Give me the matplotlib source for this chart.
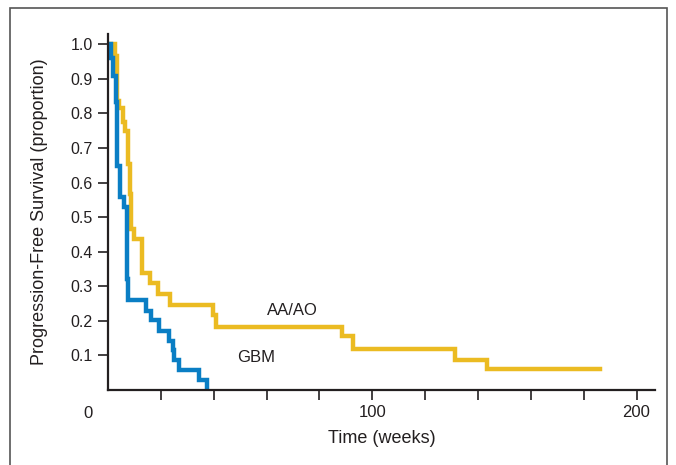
import matplotlib.pyplot as plt
from matplotlib.patches import Rectangle
from matplotlib.ticker import FixedLocator
import matplotlib.transforms as mtransforms

# Kaplan-Meier step points (time in weeks, proportion)
gbm_time = [0, 1.2, 2.0, 3.0, 3.4, 4.6, 5.9, 7.1, 7.6, 14.3, 16.4, 19.4,
            23.2, 24.5, 25.0, 27.0, 34.6, 37.6]
gbm_surv = [1.0, 0.962, 0.909, 0.832, 0.649, 0.557, 0.529, 0.322, 0.259, 0.230,
            0.203, 0.172, 0.143, 0.115, 0.086, 0.057, 0.029, 0.0]

aa_time = [0, 2.7, 3.4, 4.2, 5.6, 6.5, 7.5, 8.2, 8.8, 10.0, 12.8, 16.0, 18.9,
           23.6, 39.7, 40.7, 88.7, 92.9, 131.5, 143.4, 186.0]
aa_surv = [1.0, 0.967, 0.837, 0.815, 0.776, 0.750, 0.654, 0.568, 0.466, 0.437,
           0.338, 0.309, 0.278, 0.245, 0.216, 0.182, 0.155, 0.119, 0.088, 0.062,
           0.062]

y_ticks = [0.1, 0.2, 0.3, 0.4, 0.5, 0.6, 0.7, 0.8, 0.9, 1.0]
x_minor = [20, 40, 60, 80, 120, 140, 160, 180]
x_major = [100, 200]

blue = '#0a7ec4'
gold = '#ebbb22'
ink = '#231f20'
sans = ['Liberation Sans', 'DejaVu Sans']

fig = plt.figure(figsize=(6.76, 4.65), dpi=100)
ax = fig.add_axes([108 / 676, 1 - 390 / 465, (655 - 108) / 676, (390 - 34) / 465])

ax.step(aa_time, aa_surv, where='post', color=gold, lw=3.2, solid_joinstyle='miter')
ax.step(gbm_time, gbm_surv, where='post', color=blue, lw=3.2, solid_joinstyle='miter')

ax.set_xlim(0, 207)
ax.set_ylim(0, 1.03)

for side in ['top', 'right']:
    ax.spines[side].set_visible(False)
for side in ['left', 'bottom']:
    ax.spines[side].set_linewidth(1.6)
    ax.spines[side].set_color(ink)

ax.set_yticks(y_ticks)
ax.set_yticklabels([f'{v:.1f}' for v in y_ticks], fontsize=11.5, color=ink, family=sans)
ax.tick_params(axis='y', direction='out', length=7, width=1.2, color=ink, pad=4)

ax.set_xticks(x_major)
ax.set_xticklabels([str(v) for v in x_major], fontsize=12, color=ink, family=sans)
ax.xaxis.set_minor_locator(FixedLocator(x_minor))
ax.tick_params(axis='x', which='both', direction='out', length=7, width=1.2,
               color=ink, pad=4)

# the "0" label sits left of the y axis
trans = mtransforms.blended_transform_factory(ax.transData, ax.transAxes)
ax.text(-7.5, -0.045, '0', transform=trans, ha='center', va='top', fontsize=12,
        color=ink, family=sans, clip_on=False)

ax.set_ylabel('Progression-Free Survival (proportion)', fontsize=13, color=ink,
              family=sans, labelpad=16)
ax.set_xlabel('Time (weeks)', fontsize=13, color=ink, family=sans, labelpad=7)

ax.text(69.7, 0.23, 'AA/AO', ha='center', va='center', fontsize=12, color=ink, family=sans)
ax.text(56.0, 0.095, 'GBM', ha='center', va='center', fontsize=12, color=ink, family=sans)

# outer frame
fig.patches.append(Rectangle((9.5 / 676, -0.02), (667 - 9.5) / 676, 1.02 - 8.5 / 465,
                             transform=fig.transFigure, fill=False,
                             edgecolor='#555555', lw=1.2))

fig.savefig('out.png', dpi=100)
